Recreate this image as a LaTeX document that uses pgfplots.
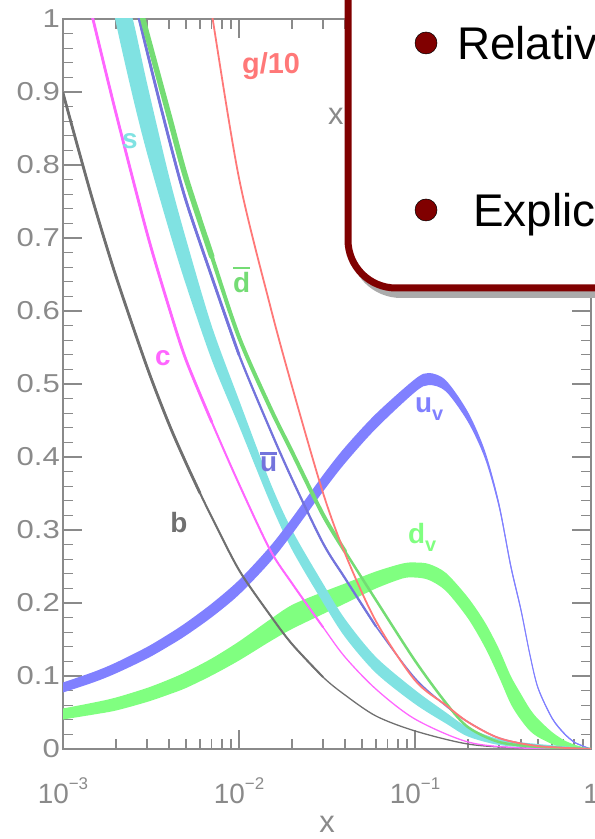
\documentclass[border=0pt]{standalone}
\usepackage{fontspec}
\setmainfont{Liberation Sans}
\usepackage{pgfplots}
\pgfplotsset{compat=1.18}
\usepgfplotslibrary{fillbetween}
\definecolor{axgray}{HTML}{8A8A8A}
\definecolor{bcol}{HTML}{707070}
\definecolor{ccol}{HTML}{FF66FF}
\definecolor{scol}{HTML}{80E2E2}
\definecolor{ubcol}{HTML}{7474DC}
\definecolor{uvcol}{HTML}{8080FF}
\definecolor{dbcol}{HTML}{74DC74}
\definecolor{dvcol}{HTML}{80FF80}
\definecolor{gcol}{HTML}{FF7878}
\definecolor{boxred}{HTML}{800000}
\definecolor{shadowgray}{HTML}{ABABAB}
\newcommand{\ovl}[1]{\vbox{\hrule height 2.5bp\kern 2.5bp\hbox{#1}}}
\newcommand{\sx}[1]{\scalebox{1.2}[1]{#1}}
\newcommand{\supx}[1]{\raisebox{14bp}{\fontsize{17}{17}\selectfont #1}}
\tikzset{lbl/.style={anchor=base west, inner sep=0pt, font=\bfseries\fontsize{28}{28}\selectfont}}
\begin{document}
\begin{tikzpicture}
\begin{axis}[
  at={(63bp,90bp)}, anchor=south west,
  scale only axis, width=528bp, height=730bp,
  xmode=log, xmin=1e-3, xmax=1, ymin=0, ymax=1,
  axis line style={draw=axgray, line width=1.8bp},
  tick style={draw=axgray, line width=1.3bp},
  tick align=inside, xtick pos=both, ytick pos=both,
  major tick length=19bp, minor tick length=10bp,
  xtick={0.001,0.01,0.1,1},
  xticklabels={10\supx{−3},10\supx{−2},10\supx{−1},1},
  minor xtick={0.002,0.003,0.004,0.005,0.006,0.007,0.008,0.009,0.02,0.03,0.04,0.05,0.06,0.07,0.08,0.09,0.2,0.3,0.4,0.5,0.6,0.7,0.8,0.9},
  ytick={0,0.1,0.2,0.3,0.4,0.5,0.6,0.7,0.8,0.9,1},
  yticklabels={\sx{0},\sx{0.1},\sx{0.2},\sx{0.3},\sx{0.4},\sx{0.5},\sx{0.6},\sx{0.7},\sx{0.8},\sx{0.9},\sx{1}},
  minor y tick num=4,
  xticklabel style={anchor=base, inner sep=0pt, yshift=-54bp, text=axgray, font=\fontsize{28}{28}\selectfont},
  yticklabel style={anchor=east, inner sep=0pt, xshift=-3bp, text=axgray, font=\fontsize{26}{26}\selectfont},
  xlabel={x},
  xlabel style={at={(axis description cs:0.5,0)}, anchor=base, inner sep=0pt, yshift=-83bp, text=axgray, font=\fontsize{31}{31}\selectfont},
  no markers,
  every axis plot/.append style={line join=round, line cap=round},
]
% ---- d_v band
\addplot[draw=none, smooth, name path=dvU, forget plot] coordinates {
(0.001,0.0555)(0.0015,0.0637)(0.002,0.0705)(0.003,0.0836)(0.004,0.0952)(0.005,0.1055)(0.007,0.1240)(0.01,0.1473)(0.015,0.1774)(0.02,0.1973)(0.03,0.2151)(0.04,0.2267)(0.06,0.2432)(0.085,0.2541)(0.1,0.2555)(0.12,0.2534)(0.15,0.2411)(0.2,0.2075)(0.25,0.1733)(0.3,0.1370)(0.35,0.1000)(0.4,0.0753)(0.45,0.0548)(0.5,0.0411)(0.6,0.0233)(0.7,0.0123)(0.8,0.0062)(0.9,0.0027)(1,0.0007)};
\addplot[draw=none, smooth, name path=dvL, forget plot] coordinates {
(0.001,0.0404)(0.0015,0.0473)(0.002,0.0527)(0.003,0.0644)(0.004,0.0747)(0.005,0.0836)(0.007,0.1007)(0.01,0.1212)(0.015,0.1473)(0.02,0.1644)(0.03,0.1849)(0.04,0.1993)(0.06,0.2199)(0.085,0.2336)(0.1,0.2349)(0.12,0.2315)(0.15,0.2164)(0.2,0.1788)(0.25,0.1390)(0.3,0.0986)(0.35,0.0616)(0.4,0.0397)(0.45,0.0247)(0.5,0.0164)(0.6,0.0068)(0.7,0.0014)(0.8,-0.0007)(0.9,-0.0014)(1,-0.0007)};
\addplot[fill=dvcol, draw=none, forget plot] fill between[of=dvU and dvL];
% ---- s band
\addplot[draw=none, smooth, name path=sU, forget plot] coordinates {
(0.0015,1.2616)(0.002,1.0822)(0.0025,0.9986)(0.003,0.9123)(0.004,0.7849)(0.005,0.6986)(0.007,0.5795)(0.01,0.4781)(0.015,0.366)(0.02,0.300)(0.03,0.2267)(0.04,0.1781)(0.06,0.1260)(0.1,0.0808)(0.15,0.0500)(0.2,0.0295)(0.3,0.0137)(0.5,0.0068)(1,0.0014)};
\addplot[draw=none, smooth, name path=sL, forget plot] coordinates {
(0.0015,1.141)(0.002,0.9945)(0.0025,0.8918)(0.003,0.8164)(0.004,0.7110)(0.005,0.6356)(0.007,0.5329)(0.01,0.4425)(0.015,0.338)(0.02,0.273)(0.03,0.2007)(0.04,0.1534)(0.06,0.1041)(0.1,0.0616)(0.15,0.0349)(0.2,0.0171)(0.3,0.0055)(0.5,0.0014)(1,-0.001)};
\addplot[fill=scol, draw=none, forget plot] fill between[of=sU and sL];
% ---- u_v band
\addplot[draw=none, smooth, name path=uvU, forget plot] coordinates {
(0.001,0.0911)(0.0015,0.1058)(0.002,0.1184)(0.003,0.1397)(0.004,0.1577)(0.005,0.1730)(0.007,0.1992)(0.01,0.2314)(0.015,0.2773)(0.02,0.3162)(0.03,0.3751)(0.04,0.4133)(0.06,0.4592)(0.1,0.5067)(0.12,0.5151)(0.15,0.5048)(0.2,0.4616)(0.25,0.4082)(0.3,0.3384)(0.35,0.2541)(0.4,0.1932)(0.45,0.1308)(0.5,0.0852)(0.6,0.0438)(0.7,0.0230)(0.8,0.0104)(0.9,0.0048)(1,0)};
\addplot[draw=none, smooth, name path=uvL, forget plot] coordinates {
(0.001,0.0774)(0.0015,0.0915)(0.002,0.1036)(0.003,0.1238)(0.004,0.1410)(0.005,0.1555)(0.007,0.1805)(0.01,0.2114)(0.015,0.2559)(0.02,0.2942)(0.03,0.3526)(0.04,0.3914)(0.06,0.4389)(0.1,0.4889)(0.12,0.4986)(0.15,0.4897)(0.2,0.4479)(0.25,0.3973)(0.3,0.3301)(0.35,0.2473)(0.4,0.1877)(0.45,0.1267)(0.5,0.0819)(0.6,0.0411)(0.7,0.0208)(0.8,0.0088)(0.9,0.0034)(1,0)};
\addplot[fill=uvcol, draw=none, forget plot] fill between[of=uvU and uvL];
\addplot[uvcol, line width=1.1bp, smooth] coordinates {
(0.2,0.4548)(0.25,0.4027)(0.3,0.3342)(0.35,0.2507)(0.4,0.1904)(0.45,0.1288)(0.5,0.0836)(0.6,0.0425)(0.7,0.0219)(0.8,0.0096)(0.9,0.0041)(1,0)};
% ---- b (gray)
\addplot[bcol, line width=1.3bp, smooth] coordinates {
(0.001,0.8986)(0.00122,0.8225)(0.0015,0.7458)(0.002,0.6475)(0.003,0.5233)(0.004,0.4452)(0.005,0.3918)(0.006,0.3507)(0.007,0.3178)(0.01,0.2452)(0.015,0.1836)(0.02,0.1438)(0.03,0.0986)(0.04,0.0740)(0.06,0.0452)(0.1,0.0247)(0.2,0.0068)(0.4,0.0014)(1,0)};
\addplot[bcol, line width=2.0bp, smooth] coordinates {
(0.001,0.8986)(0.00122,0.8225)(0.0015,0.7458)(0.002,0.6475)(0.003,0.5233)(0.004,0.4452)(0.005,0.3918)(0.006,0.3507)(0.007,0.3178)(0.01,0.2452)(0.015,0.1836)(0.02,0.1438)(0.03,0.0986)};
\addplot[bcol, line width=2.8bp, smooth] coordinates {
(0.001,0.8986)(0.00122,0.8225)(0.0015,0.7458)(0.002,0.6475)(0.003,0.5233)(0.004,0.4452)(0.005,0.3918)(0.006,0.3507)};
% ---- c (magenta)
\addplot[ccol, line width=1.3bp, smooth] coordinates {
(0.001,1.17)(0.0015,0.994)(0.002,0.871)(0.003,0.707)(0.004,0.605)(0.005,0.533)(0.007,0.448)(0.01,0.363)(0.015,0.273)(0.02,0.227)(0.03,0.167)(0.04,0.126)(0.06,0.082)(0.1,0.041)(0.2,0.0096)(0.4,0.0014)(1,0)};
\addplot[ccol, line width=2.0bp, smooth] coordinates {
(0.001,1.17)(0.0015,0.994)(0.002,0.871)(0.003,0.707)(0.004,0.605)(0.005,0.533)(0.007,0.448)(0.01,0.363)(0.015,0.273)(0.02,0.227)(0.03,0.167)};
\addplot[ccol, line width=2.8bp, smooth] coordinates {
(0.001,1.17)(0.0015,0.994)(0.002,0.871)(0.003,0.707)(0.004,0.605)(0.005,0.533)(0.007,0.448)};
% ---- ubar
\addplot[ubcol, line width=1.5bp, smooth] coordinates {
(0.002,1.133)(0.003,0.956)(0.004,0.836)(0.005,0.751)(0.007,0.647)(0.01,0.540)(0.015,0.438)(0.02,0.370)(0.03,0.282)(0.04,0.234)(0.06,0.168)(0.1,0.097)(0.15,0.059)(0.2,0.037)(0.3,0.015)(0.5,0.004)(1,0)};
\addplot[ubcol, line width=2.2bp, smooth] coordinates {
(0.002,1.133)(0.003,0.956)(0.004,0.836)(0.005,0.751)(0.007,0.647)(0.01,0.540)(0.015,0.438)(0.02,0.370)(0.03,0.282)(0.04,0.234)(0.06,0.168)};
\addplot[ubcol, line width=2.8bp, smooth] coordinates {
(0.002,1.133)(0.003,0.956)(0.004,0.836)(0.005,0.751)(0.007,0.647)(0.01,0.540)};
% ---- dbar
\addplot[dbcol, line width=2.5bp, smooth] coordinates {
(0.002,1.137)(0.003,0.979)(0.004,0.868)(0.005,0.782)(0.007,0.675)(0.01,0.564)(0.015,0.468)(0.02,0.407)(0.03,0.321)(0.04,0.271)(0.06,0.204)(0.1,0.121)(0.15,0.063)(0.2,0.030)(0.3,0.0096)(0.5,0.003)(1,0)};
\addplot[dbcol, line width=4bp, smooth] coordinates {
(0.002,1.137)(0.003,0.979)(0.004,0.868)(0.005,0.782)(0.007,0.675)(0.01,0.564)(0.015,0.468)(0.02,0.407)(0.03,0.321)(0.04,0.271)};
\addplot[dbcol, line width=5.5bp, smooth] coordinates {
(0.002,1.137)(0.003,0.979)(0.004,0.868)(0.005,0.782)(0.007,0.675)};
% ---- g/10
\addplot[gcol, line width=1.8bp, smooth] coordinates {
(0.005,1.241)(0.006,1.111)(0.007,1.008)(0.01,0.782)(0.015,0.608)(0.02,0.497)(0.03,0.351)(0.04,0.268)(0.06,0.175)(0.1,0.094)(0.15,0.060)(0.2,0.037)(0.3,0.015)(0.5,0.004)(1,0)};
% ---- labels
\node[lbl, text=gcol, font=\bfseries\fontsize{29}{29}\selectfont] at (axis cs:0.0104,0.9247) {g/10};
\node[lbl, text=scol] at (axis cs:0.00216,0.823) {s};
\node[lbl, text=ccol] at (axis cs:0.00333,0.5247) {c};
\node[lbl, text=bcol] at (axis cs:0.00406,0.296) {b};
\node[lbl, text=dbcol] at (axis cs:0.00925,0.626) {\ovl{d}};
\node[lbl, text=ubcol] at (axis cs:0.01315,0.3795) {\ovl{u}};
\node[lbl, text=uvcol] at (axis cs:0.1,0.4616) {u\raisebox{-8bp}{\fontsize{20}{20}\selectfont v}};
\node[lbl, text=dvcol] at (axis cs:0.0912,0.282) {d\raisebox{-8bp}{\fontsize{20}{20}\selectfont v}};
\end{axis}
\node[anchor=base west, inner sep=0pt, text=axgray, font=\fontsize{31}{31}\selectfont] at (328bp,714bp) {x f(x,Q²)};
\fill[shadowgray, rounded corners=51bp] (350bp,541bp) rectangle (800bp,950bp);
\draw[boxred, line width=7bp, fill=white, rounded corners=48bp] (348bp,551bp) rectangle (760bp,900bp);
\fill[boxred, draw=black, line width=0.5bp] (426bp,796bp) circle (11bp);
\fill[boxred, draw=black, line width=0.5bp] (426bp,629bp) circle (11bp);
\node[anchor=base west, inner sep=0pt, font=\fontsize{46}{46}\selectfont] at (457bp,779bp) {Relative};
\node[anchor=base west, inner sep=0pt, font=\fontsize{46}{46}\selectfont] at (473bp,612bp) {Explicit};
\pgfresetboundingbox
\path[use as bounding box] (0bp,0bp) rectangle (595bp,839bp);
\end{tikzpicture}
\end{document}
